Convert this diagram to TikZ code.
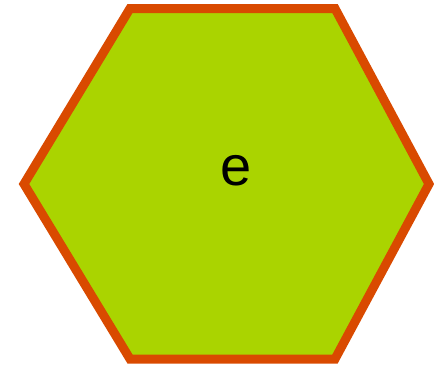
\documentclass[tikz,border=0pt]{standalone}
\usepackage{fontspec}
\setmainfont{Liberation Sans}
\usepackage{xcolor}
\definecolor{hexfill}{RGB}{170,212,0}
\definecolor{hexline}{RGB}{217,74,0}
\begin{document}
\begin{tikzpicture}[x=1pt, y=-1pt,
  hexa/.style={fill=hexfill, draw=hexline, line width=9pt, line join=miter},
  lbl/.style={font=\fontsize{56}{60}\selectfont, inner sep=0pt}]
\useasboundingbox (0,0) rectangle (434,367);

% six corners, flat top and bottom
\coordinate (tl) at (130,8.5);
\coordinate (tr) at (335,8.5);
\coordinate (r)  at (429,184);
\coordinate (br) at (335,359);
\coordinate (bl) at (130,359);
\coordinate (l)  at (24,184);
\draw[hexa] (tl) -- (tr) -- (r) -- (br) -- (bl) -- (l) -- cycle;

\node[lbl] (e) at (236,171) {e};
\end{tikzpicture}
\end{document}
